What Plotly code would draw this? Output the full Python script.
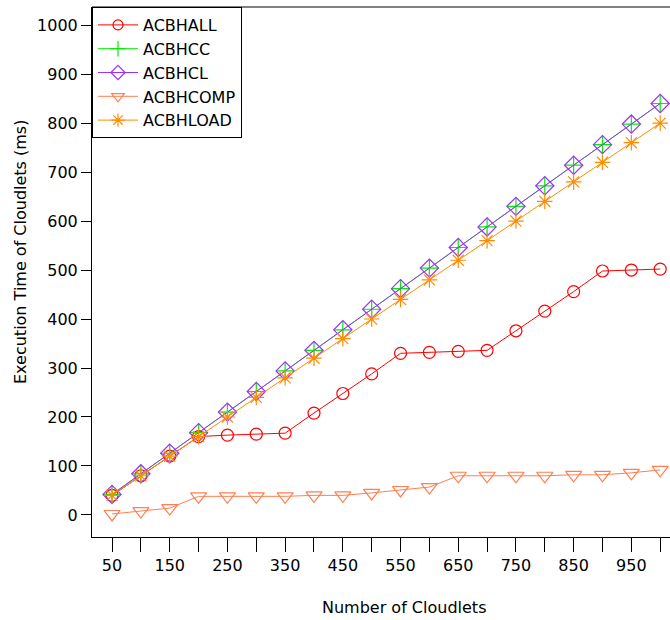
import plotly.graph_objects as go

cloudlets = [50, 100, 150, 200, 250, 300, 350, 400, 450, 500,
             550, 600, 650, 700, 750, 800, 850, 900, 950, 1000]
acbhall = [40, 80, 120, 160, 163, 165, 167, 208, 248, 288,
           330, 332, 334, 336, 376, 416, 456, 498, 500, 502]
acbhcc = [42, 84, 126, 168, 210, 252, 294, 336, 378, 420,
          462, 504, 546, 588, 630, 672, 714, 756, 798, 840]
acbhcl = [42, 84, 126, 168, 210, 252, 294, 336, 378, 420,
          462, 504, 546, 588, 630, 672, 714, 756, 798, 840]
acbhcomp = [2, 8, 14, 38, 38, 38, 38, 40, 40, 45,
            51, 57, 80, 80, 80, 80, 82, 82, 86, 92]
acbhload = [40, 80, 120, 160, 200, 240, 280, 320, 360, 400,
            440, 480, 520, 560, 600, 640, 680, 720, 760, 800]

x_tickvals = list(range(50, 1001, 50))
x_ticktext = [str(v) if (v - 50) % 100 == 0 else "" for v in x_tickvals]
y_tickvals = [0, 100, 200, 300, 400, 500, 600, 700, 800, 900, 1000]

FONT = "DejaVu Sans"

series = [
    ("ACBHALL", acbhall, "#FF0000", "circle-open", 12, 10),
    ("ACBHCC", acbhcc, "#00EE00", "cross-thin-open", 13, 11),
    ("ACBHCL", acbhcl, "#9B30FF", "diamond-open", 14, 11),
    ("ACBHCOMP", acbhcomp, "#FF7F50", "triangle-down-open", 14, 11),
    ("ACBHLOAD", acbhload, "#FF8C00", "asterisk-open", 13, 11),
]

fig = go.Figure()
for name, vals, color, sym, size, lsize in series:
    fig.add_trace(go.Scatter(
        x=cloudlets, y=vals, name=name, mode="lines+markers",
        line=dict(color=color, width=1),
        marker=dict(symbol=sym, size=size, color=color,
                    line=dict(color=color, width=1.2)),
        cliponaxis=False, showlegend=False,
    ))
for name, vals, color, sym, size, lsize in series:
    fig.add_trace(go.Scatter(
        x=[None], y=[None], name=name, mode="lines+markers",
        line=dict(color=color, width=1),
        marker=dict(symbol=sym, size=lsize, color=color,
                    line=dict(color=color, width=1.2)),
        showlegend=True,
    ))

fig.update_layout(
    width=670, height=620,
    margin=dict(l=92, r=0, t=7, b=83),
    paper_bgcolor="white", plot_bgcolor="white",
    font=dict(family=FONT, size=16, color="black"),
    showlegend=True,
    legend=dict(x=0, y=1, xanchor="left", yanchor="top",
                bgcolor="white", bordercolor="black", borderwidth=1,
                font=dict(family=FONT, size=16, color="black"),
                itemwidth=40, tracegroupgap=0),
    xaxis=dict(range=[15.3, 1017], showgrid=False, zeroline=False,
               showline=True, linecolor="black", linewidth=1,
               ticks="outside", ticklen=14, tickcolor="black",
               tickvals=x_tickvals, ticktext=x_ticktext,
               tickfont=dict(family=FONT, size=16)),
    yaxis=dict(range=[-45, 1037], showgrid=False, zeroline=False,
               showline=True, linecolor="black", linewidth=1,
               ticks="outside", ticklen=10, tickcolor="black",
               tickvals=y_tickvals,
               tickfont=dict(family=FONT, size=16)),
    shapes=[dict(type="line", xref="paper", yref="paper",
                 x0=0, x1=1, y0=1, y1=1,
                 line=dict(color="black", width=1))],
    annotations=[
        dict(text="Number of Cloudlets", xref="paper", yref="paper",
             x=(404 - 92) / 578, y=-(607 - 537) / 530,
             xanchor="center", yanchor="middle", showarrow=False,
             font=dict(family=FONT, size=16)),
        dict(text="Execution Time of Cloudlets (ms)", xref="paper", yref="paper",
             x=-(92 - 20) / 578, y=(537 - 252) / 530, textangle=-90,
             xanchor="center", yanchor="middle", showarrow=False,
             font=dict(family=FONT, size=16)),
    ],
)

fig.write_html("out.html")
